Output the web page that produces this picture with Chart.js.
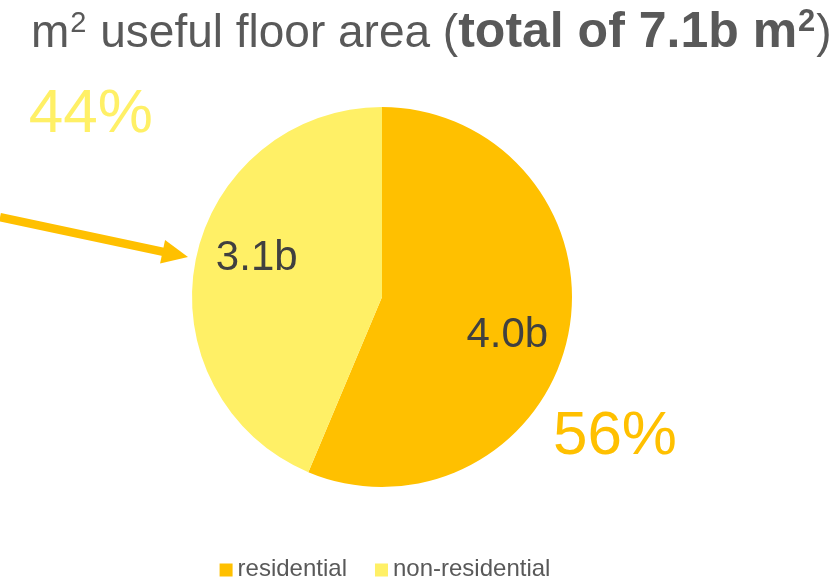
<!DOCTYPE html>
<html>
<head>
<meta charset="utf-8">
<script src="https://cdn.jsdelivr.net/npm/chart.js@4.4.1/dist/chart.umd.min.js"></script>
<style>
  html, body { margin: 0; padding: 0; background: #fff; }
  #wrap { width: 833px; height: 580px; position: relative; }
</style>
</head>
<body>
<div id="wrap"><canvas id="chart"></canvas></div>
<script>
// data
const categories = ['residential', 'non-residential']
const areaBillions = [4.0, 3.1]
const valueLabels = ['4.0b', '3.1b']
const shareLabels = ['56%', '44%']
const sliceColors = ['#FFC000', '#FFF066']
// [text, weight, superscript?]
const titleParts = [
  ['m', 'normal', false],
  ['2', 'normal', true],
  [' useful floor area (', 'normal', false],
  ['total of 7.1b m', 'bold', false],
  ['2', 'bold', true],
  [')', 'normal', false]
]

const FONT = '"Liberation Sans", Arial, sans-serif'

// title drawn by hand because it mixes regular, bold and superscripts
const titlePlugin = {
  id: 'mixedTitle',
  afterDraw(chart) {
    const ctx = chart.ctx
    ctx.save()
    ctx.fillStyle = '#595959'
    ctx.textBaseline = 'alphabetic'
    let x = 31
    const base = 47
    for (const [txt, weight, sup] of titleParts) {
      const size = weight === 'bold' ? 50 : 46
      if (sup) {
        ctx.font = weight + ' ' + Math.round(size * 0.62) + 'px ' + FONT
        ctx.fillText(txt, x + 1, base - size * 0.32)
        x += ctx.measureText(txt).width + 2
      } else {
        ctx.font = weight + ' ' + size + 'px ' + FONT
        ctx.fillText(txt, x, base)
        x += ctx.measureText(txt).width
      }
    }
    ctx.restore()
  }
}

// value labels inside slices, share labels outside, arrow
const sliceLabels = {
  id: 'sliceLabels',
  afterDatasetsDraw(chart) {
    const ctx = chart.ctx
    const arcs = chart.getDatasetMeta(0).data
    ctx.save()
    ctx.textAlign = 'center'
    ctx.textBaseline = 'middle'
    arcs.forEach((arc, i) => {
      const mid = (arc.startAngle + arc.endAngle) / 2 + 0.1
      const r = arc.outerRadius * 0.69
      ctx.font = '42px ' + FONT
      ctx.fillStyle = '#404040'
      ctx.fillText(valueLabels[i], arc.x + Math.cos(mid) * r, arc.y + Math.sin(mid) * r)
    })

    const a = arcs[0]
    const R = a.outerRadius
    // share labels
    const sharePos = [[1.226, 0.737], [-1.532, -0.96]]
    shareLabels.forEach((txt, i) => {
      ctx.font = '62px ' + FONT
      ctx.fillStyle = sliceColors[i]
      ctx.fillText(txt, a.x + sharePos[i][0] * R, a.y + sharePos[i][1] * R)
    })

    // arrow from the left edge into the non-residential slice
    const x0 = 0, y0 = a.y - 0.42 * R
    const x1 = a.x - 1.021 * R, y1 = a.y - 0.21 * R
    const ang = Math.atan2(y1 - y0, x1 - x0)
    const headLen = 26, headW = 12
    const bx = x1 - Math.cos(ang) * headLen, by = y1 - Math.sin(ang) * headLen
    ctx.strokeStyle = sliceColors[0]
    ctx.fillStyle = sliceColors[0]
    ctx.lineWidth = 8.5
    ctx.beginPath()
    ctx.moveTo(x0, y0)
    ctx.lineTo(bx + Math.cos(ang) * 2, by + Math.sin(ang) * 2)
    ctx.stroke()
    ctx.beginPath()
    ctx.moveTo(x1, y1)
    ctx.lineTo(bx - Math.sin(ang) * headW, by + Math.cos(ang) * headW)
    ctx.lineTo(bx + Math.sin(ang) * headW, by - Math.cos(ang) * headW)
    ctx.closePath()
    ctx.fill()
    ctx.restore()
  }
}

// simple legend: square + label, centred under the pie
const legendRow = {
  id: 'legendRow',
  afterDraw(chart) {
    const ctx = chart.ctx
    const box = 13, gap = 5, itemGap = 28, y = 569
    ctx.save()
    ctx.font = '24px ' + FONT
    ctx.textBaseline = 'middle'
    const widths = categories.map(c => box + gap + ctx.measureText(c).width)
    const total = widths.reduce((s, w) => s + w, 0) + itemGap * (categories.length - 1)
    let x = chart.getDatasetMeta(0).data[0].x + 3 - total / 2
    categories.forEach((c, i) => {
      ctx.fillStyle = sliceColors[i]
      ctx.fillRect(x, y - box / 2 + 1, box, box)
      ctx.fillStyle = '#595959'
      ctx.fillText(c, x + box + gap, y)
      x += widths[i] + itemGap
    })
    ctx.restore()
  }
}

new Chart(document.getElementById('chart'), {
  type: 'pie',
  data: {
    labels: categories,
    datasets: [{
      data: areaBillions,
      backgroundColor: sliceColors,
      borderWidth: 0
    }]
  },
  options: {
    responsive: true,
    maintainAspectRatio: false,
    animation: false,
    layout: { padding: { top: 107, bottom: 93, left: 0, right: 69 } },
    plugins: {
      legend: { display: false },
      tooltip: { enabled: false }
    }
  },
  plugins: [titlePlugin, sliceLabels, legendRow]
})
</script>
</body>
</html>
